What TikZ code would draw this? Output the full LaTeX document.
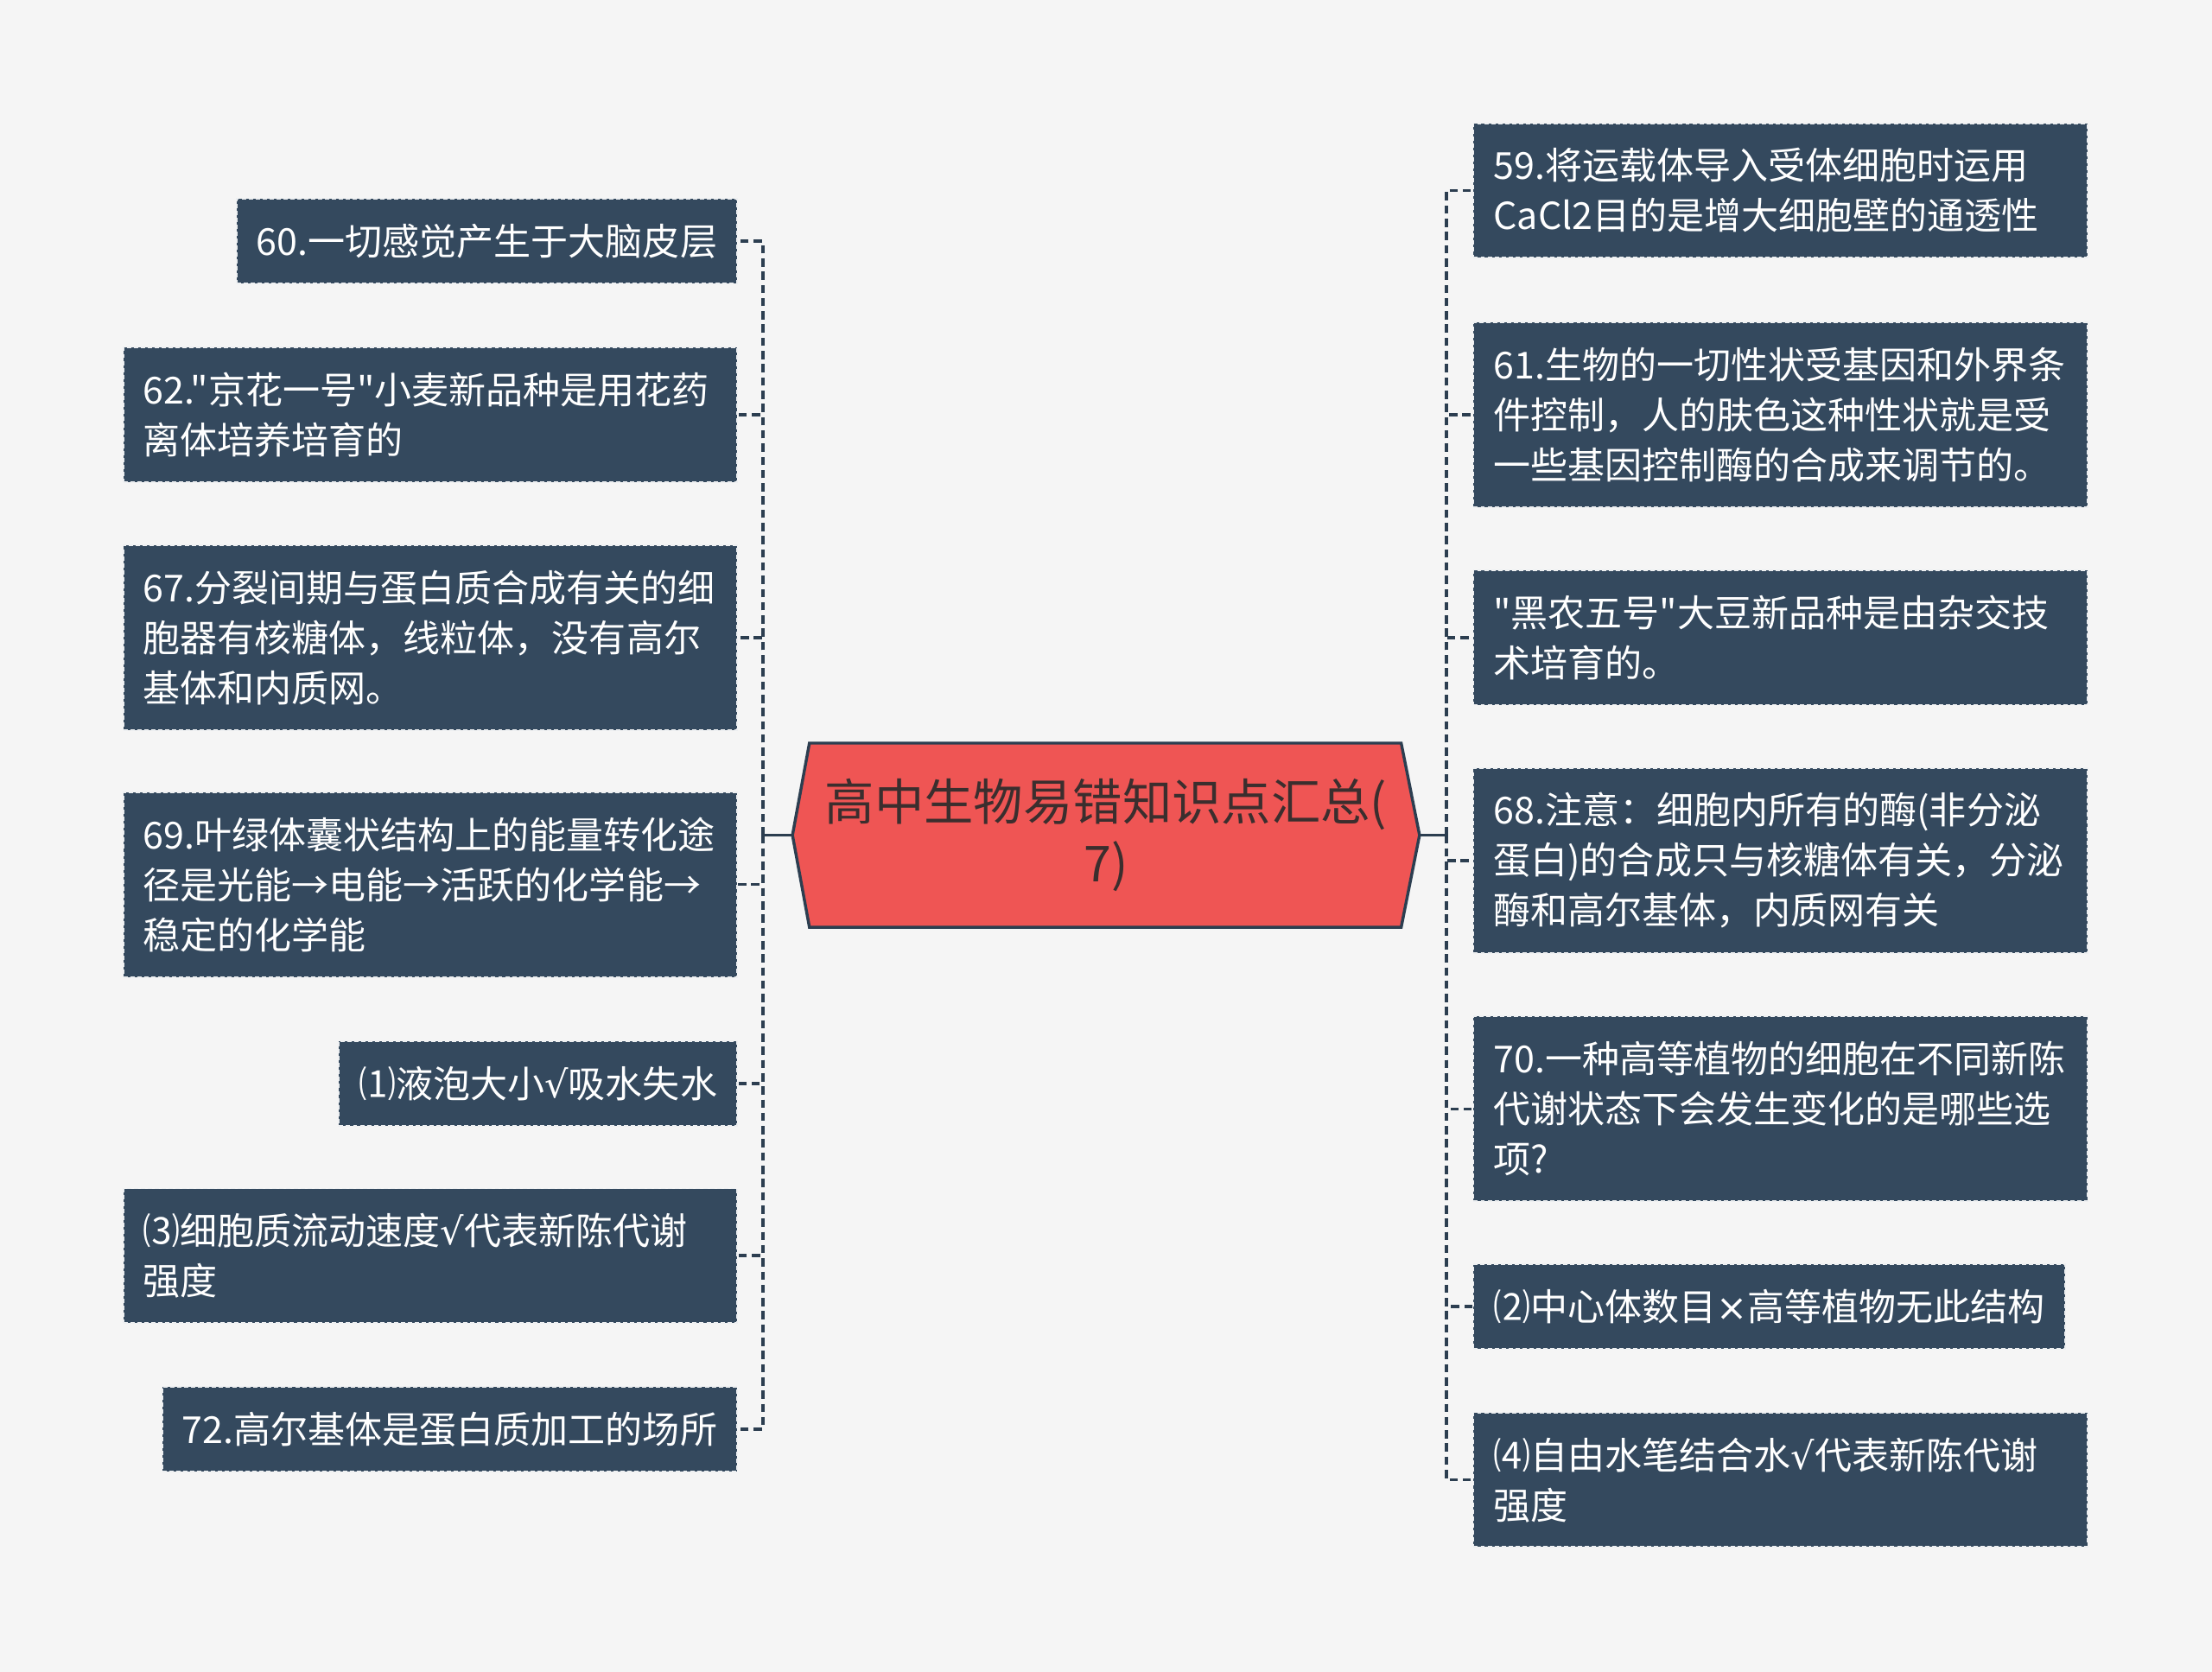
\documentclass[tikz,border=0pt]{standalone}
\usepackage{fontspec}
\setmainfont{Noto Sans CJK SC}[Ligatures=TeXOff]
\newfontfamily\symfont{DejaVu Sans}
\usetikzlibrary{calc, positioning}
\definecolor{cpage}{HTML}{F5F5F5}
\definecolor{cbox}{HTML}{34495E}
\definecolor{cedge}{HTML}{EDEFF1}
\definecolor{cline}{HTML}{2C3E50}
\definecolor{croot}{HTML}{EF5554}
\definecolor{crtext}{HTML}{3B2E2E}
\pgfdeclarelayer{back}
\pgfsetlayers{back,main}
\newcommand{\ok}{{\symfont √}}
\newcommand{\no}{{\symfont ×}}
\tikzset{
  every picture/.style={x=0.03cm, y=-0.03cm},
  leaf/.style={draw=cedge, dash pattern=on 2.6pt off 1.6pt, line width=1pt, fill=cbox, text=white,
    align=left, inner xsep=0.42cm, inner ysep=0pt, minimum height=1.8cm,
    font=\fontsize{22.5pt}{30.3pt}\selectfont},
  wide/.style={text width=12.21cm, minimum height=#1},
  lleaf/.style={leaf, anchor=east},
  rleaf/.style={leaf, anchor=west},
  roottext/.style={minimum width=13.32cm, minimum height=3.9cm, inner sep=0pt, align=center,
    text=crtext, font=\fontsize{30pt}{37.5pt}\selectfont},
  rootshape/.style={draw=cline, fill=croot, line width=1.8pt},
  stem/.style={draw=cline, line width=1.8pt},
  link/.style={draw=cline, line width=1.8pt, dash pattern=on 5pt off 3pt},
}

\begin{document}
\begin{tikzpicture}
  \useasboundingbox (0,0) rectangle (1568,1185);
  % root
  \node[roottext] (root) at (784,592) {高中生物易错知识点汇总(\\7)};
  \begin{pgfonlayer}{back}
    \fill[cpage] (0,0) rectangle (1568,1185);
    \draw[rootshape] (root.west) -- ($(root.north west)+(12,0)$) -- ($(root.north east)+(-13,0)$)
      -- (root.east) -- ($(root.south east)+(-13,0)$) -- ($(root.south west)+(12,0)$) -- cycle;
  \end{pgfonlayer}
  % left branch
  \node[lleaf] (l1) at (523,171) {60.一切感觉产生于大脑皮层};
  \node[lleaf, wide=2.85cm] (l2) at (523,294) {62."京花一号"小麦新品种是用花药\\离体培养培育的};
  \node[lleaf, wide=3.93cm] (l3) at (523,452) {67.分裂间期与蛋白质合成有关的细\\胞器有核糖体，线粒体，没有高尔\\基体和内质网。};
  \node[lleaf, wide=3.93cm] (l4) at (523,627) {69.叶绿体囊状结构上的能量转化途\\径是光能→电能→活跃的化学能→\\稳定的化学能};
  \node[lleaf] (l5) at (523,768) {⑴液泡大小\ok 吸水失水};
  \node[lleaf, wide=2.85cm] (l6) at (523,890) {⑶细胞质流动速度\ok 代表新陈代谢\\强度};
  \node[lleaf] (l7) at (523,1013) {72.高尔基体是蛋白质加工的场所};
  % right branch
  \node[rleaf, wide=2.85cm] (r1) at (1044,135) {59.将运载体导入受体细胞时运用\\CaCl2目的是增大细胞壁的通透性};
  \node[rleaf, wide=3.93cm] (r2) at (1044,294) {61.生物的一切性状受基因和外界条\\件控制，人的肤色这种性状就是受\\一些基因控制酶的合成来调节的。};
  \node[rleaf, wide=2.85cm] (r3) at (1044,452) {"黑农五号"大豆新品种是由杂交技\\术培育的。};
  \node[rleaf, wide=3.93cm] (r4) at (1044,610) {68.注意：细胞内所有的酶(非分泌\\蛋白)的合成只与核糖体有关，分泌\\酶和高尔基体，内质网有关};
  \node[rleaf, wide=3.93cm] (r5) at (1044,786) {70.一种高等植物的细胞在不同新陈\\代谢状态下会发生变化的是哪些选\\项?};
  \node[rleaf] (r6) at (1044,926) {⑵中心体数目\no 高等植物无此结构};
  \node[rleaf, wide=2.85cm] (r7) at (1044,1049) {⑷自由水笔结合水\ok 代表新陈代谢\\强度};
  % connectors
  \coordinate (lbus) at ($(root.west)+(-21,0)$);
  \coordinate (rbus) at ($(root.east)+(19,0)$);
  \draw[stem] (root.west) -- (lbus);
  \draw[stem] (root.east) -- (rbus);
  \foreach \n in {l1,l2,l3,l4,l5,l6,l7}
    \draw[link] (lbus) |- (\n.east);
  \foreach \n in {r1,r2,r3,r4,r5,r6,r7}
    \draw[link] (rbus) |- (\n.west);
\end{tikzpicture}
\end{document}
